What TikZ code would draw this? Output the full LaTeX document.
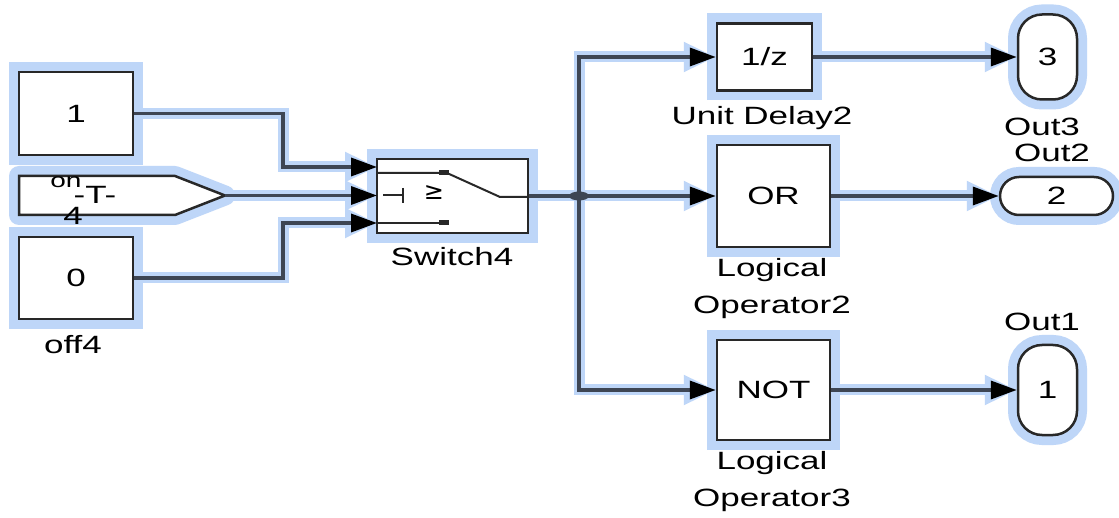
\documentclass[tikz,border=0pt]{standalone}
\usepackage{fontspec}
\newfontfamily\simfont{Liberation Sans}[FakeStretch=1.4]
\newfontfamily\symfont{DejaVu Sans}
\usetikzlibrary{arrows.meta}
\definecolor{glowc}{RGB}{190,214,248}
\definecolor{wirec}{RGB}{62,70,84}
\definecolor{edgec}{RGB}{40,40,40}
\pgfdeclarelayer{paper}
\pgfdeclarelayer{glowlayer}
\pgfsetlayers{paper,glowlayer,main}
% a signal line: light halo underneath, dark line on top
\newcommand\conn[2][]{%
  \begin{pgfonlayer}{glowlayer}\draw[glowwire,#1] #2;\end{pgfonlayer}%
  \draw[wire,#1] #2;}
\begin{document}
\begin{tikzpicture}[x=1pt,y=-1pt,
  font=\simfont\fontsize{25}{37}\selectfont,
  blk/.style={draw=edgec, line width=2.5pt, fill=white, inner sep=0pt,
    preaction={draw=glowc, line width=20pt}},
  port/.style={blk, minimum width=59pt, rounded corners=24pt},
  lbl/.style={align=center, inner sep=0pt},
  wire/.style={draw=wirec, line width=3.5pt,
    arr/.style={-{Triangle[length=26pt,width=18pt,color=black]}}},
  glowwire/.style={draw=glowc, line width=11pt,
    arr/.style={-{Triangle[length=32pt,width=28pt]}}},
  dot/.style={fill=edgec}]
\useasboundingbox (0,0) rectangle (1119,518);
\begin{pgfonlayer}{paper}
\fill[white] (0,0) rectangle (1119,518);
\end{pgfonlayer}

% sources
\node[blk, minimum width=114pt, minimum height=83pt] (c1) at (76,113.5) {1};
\node[blk, minimum width=114pt, minimum height=82pt] (c0) at (76,278) {0};
\node[lbl] (c0l) at (73,345) {off4};
\draw[draw=edgec, line width=2.5pt, fill=white, line join=miter,
      preaction={draw=glowc, line width=20pt, line join=round}]
  (19,176) -- (175,176) -- (225,195.5) -- (175,215) -- (19,215) -- cycle;
\coordinate (on4) at (225,195.5);
\node[lbl, font=\simfont\fontsize{20}{20}\selectfont] (ont) at (66,182) {on};
\node[lbl] (tag) at (95,195) {-T-};
\node[lbl] (onn) at (73,216) {4};

% switch
\node[blk, minimum width=151pt, minimum height=74pt] (sw) at (452.5,196) {};
\node[lbl] (swl) at (452,257) {Switch4};
\coordinate (in1) at (377,167);
\coordinate (in2) at (377,195.5);
\coordinate (in3) at (377,223);
\coordinate (kx) at (283,0);
\draw[edgec, line width=2pt] (377,173) -- (447,173) -- (500,197) -- (528,197);
\draw[edgec, line width=2pt] (377,223) -- (447,223);
\fill[dot] (439,170.5) rectangle (449,175.5);
\fill[dot] (439,220.5) rectangle (449,225.5);
\draw[edgec, line width=2pt] (383,195.5) -- (403,195.5) (403,188) -- (403,203);
\node[lbl, font=\symfont\fontsize{24}{24}\selectfont] (ge) at (434,193) {≥};

% operators
\node[blk, minimum width=95pt, minimum height=67pt] (ud) at (764.5,57) {1/z};
\node[lbl] (udl) at (762,118) {Unit Delay2};
\node[blk, minimum width=113pt, minimum height=102pt] (orb) at (773.5,196) {OR};
\node[lbl] (orl) at (772,288.5) {Logical\\Operator2};
\node[blk, minimum width=113pt, minimum height=100pt] (notb) at (773.5,390) {NOT};
\node[lbl] (notl) at (772,481.5) {Logical\\Operator3};

% outports
\node[port, minimum height=85pt] (o3) at (1047.5,57) {3};
\node[lbl] (o3l) at (1042,127) {Out3};
\node[blk, minimum width=113pt, minimum height=38pt, rounded corners=19pt] (o2) at (1056.5,196) {2};
\node[lbl] (o2l) at (1052,153) {Out2};
\node[port, minimum height=90pt] (o1) at (1047.5,390) {1};
\node[lbl] (o1l) at (1042,322) {Out1};

% junction
\coordinate (j) at (579,196);

% signal lines
\conn[arr]{(c1.east) -| (kx |- in1) -- (in1)}
\conn[arr]{(on4) -- (in2)}
\conn[arr]{(c0.east) -| (kx |- in3) -- (in3)}
\conn{(sw.east) -- (j)}
\conn[arr]{(j) |- (ud.west)}
\conn[arr]{(j) -- (orb.west)}
\conn[arr]{(j) |- (notb.west)}
\conn[arr]{(ud.east) -- (o3.west)}
\conn[arr]{(orb.east) -- (o2.west)}
\conn[arr]{(notb.east) -- (o1.west)}
\fill[wirec] (j) ellipse [x radius=10pt, y radius=4.5pt];
\end{tikzpicture}
\end{document}
